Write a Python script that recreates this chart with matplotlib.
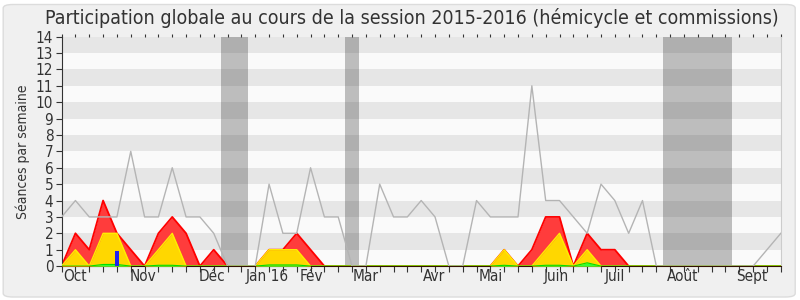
#!/usr/bin/env python3
"""Participation chart, session 2015-2016."""
import matplotlib

matplotlib.use("Agg")
import matplotlib.pyplot as plt
from matplotlib.patches import FancyBboxPatch

plt.rcParams["font.family"] = ["DejaVu Sans"]
plt.rcParams["font.stretch"] = "condensed"

# one point per week, from late September 2015 to September 2016
weeks = list(range(53))
median = [3, 4, 3, 3, 3, 7, 3, 3, 6, 3, 3, 2, 0, 0, 0, 5, 2, 2, 6, 3,
          3, 0, 0, 5, 3, 3, 4, 3, 0, 0, 4, 3, 3, 3, 11, 4, 4, 3, 2, 5,
          4, 2, 4, 0, 0, 0, 0, 0, 0, 0, 0, 1, 2]
commission = [0, 2, 1, 4, 2, 1, 0, 2, 3, 2, 0, 1, 0, 0, 0, 1, 1, 2, 1, 0,
              0, 0, 0, 0, 0, 0, 0, 0, 0, 0, 0, 0, 1, 0, 1, 3, 3, 0, 2, 1,
              1, 0, 0, 0, 0, 0, 0, 0, 0, 0, 0, 0, 0]
hemicycle = [0, 1, 0, 2, 2, 0, 0, 1, 2, 0, 0, 0, 0, 0, 0, 1, 1, 1, 0, 0,
             0, 0, 0, 0, 0, 0, 0, 0, 0, 0, 0, 0, 1, 0, 0, 1, 2, 0, 1, 0,
             0, 0, 0, 0, 0, 0, 0, 0, 0, 0, 0, 0, 0]
interventions = [0, 0, 0, 0.1, 0.1, 0, 0, 0.05, 0.05, 0, 0, 0, 0, 0, 0, 0.07, 0.07, 0.07, 0, 0,
                 0, 0, 0, 0, 0, 0, 0, 0, 0, 0, 0, 0, 0.05, 0, 0, 0.05, 0.05, 0, 0.2, 0,
                 0, 0, 0, 0, 0, 0, 0, 0, 0, 0, 0, 0, 0]
question_weeks = [4]
question_values = [0.9]
vacations = [(11.5, 13.5), (20.5, 21.5), (43.5, 48.5)]
month_pos = [1, 5.9, 10.9, 14.9, 18.1, 22, 26.9, 31, 35.8, 40, 44.9, 49.9]
month_labels = ["Oct", "Nov", "Déc", "Jan 16", "Fév", "Mar", "Avr", "Mai",
                "Juin", "Juil", "Août", "Sept"]

fig = plt.figure(figsize=(8, 3), dpi=100, facecolor="white")
fig.patches.append(FancyBboxPatch((0.004, 0.01), 0.99, 0.975, boxstyle="round,pad=0,rounding_size=0.012",
                                  transform=fig.transFigure, facecolor="#f0f0f0",
                                  edgecolor="#dcdcdc", linewidth=1.0, zorder=-10))
ax = fig.add_axes([0.077, 0.113, 0.899, 0.765])
ax.set_facecolor("#fafafa")

for lo in range(1, 14, 2):
    ax.axhspan(lo, lo + 1, color="#e6e6e6", linewidth=0, zorder=0)
for start, end in vacations:
    ax.axvspan(start, end, color="#323232", alpha=0.3, linewidth=0, zorder=1)

ax.fill_between(weeks, 0, commission, color="#ff3c3c", linewidth=0, zorder=2)
ax.plot(weeks, commission, color="#ff0000", linewidth=1.3, zorder=2.1)
ax.fill_between(weeks, 0, hemicycle, color="#ffd700", linewidth=0, zorder=3)
ax.plot(weeks, hemicycle, color="#ffee00", linewidth=1.0, zorder=3.1)
ax.fill_between(weeks, 0, interventions, color="#33ff33", linewidth=0, zorder=4)
ax.plot(weeks, interventions, color="#00e000", linewidth=0.8, zorder=4.1)
ax.bar(question_weeks, question_values, width=0.34, color="#2222ee", zorder=5)
ax.plot(weeks, median, color="#b4b4b4", linewidth=1.0, zorder=6)

ax.set_xlim(0, 52)
ax.set_ylim(0, 14)
ax.set_yticks(range(15))
ax.set_xticks(weeks)
ax.set_xticklabels([])
ax.tick_params(axis="x", length=4, width=0.8, direction="out", color="#333333")
ax.tick_params(axis="y", length=4, width=0.8, labelsize=11, colors="#333333", pad=2)
for pos, lab in zip(month_pos, month_labels):
    ax.text(pos, -0.012, lab, transform=ax.get_xaxis_transform(), ha="center", va="top",
            fontsize=11, color="#333333")

top = ax.secondary_xaxis("top")
top.set_xticks(weeks)
top.set_xticklabels([])
top.tick_params(length=2, width=0.8, color="#333333")
top.spines["top"].set_visible(False)

ax.spines["top"].set_visible(False)
ax.spines["right"].set_color("#cccccc")
ax.spines["left"].set_color("#333333")
ax.spines["bottom"].set_color("#331100")
ax.set_ylabel("Séances par semaine", fontsize=10, color="#333333", labelpad=4)
fig.text(0.515, 0.94, "Participation globale au cours de la session 2015-2016 (hémicycle et commissions)",
         ha="center", va="center", fontsize=14, color="#333333")

fig.savefig("out.png", dpi=100, facecolor=fig.get_facecolor())
